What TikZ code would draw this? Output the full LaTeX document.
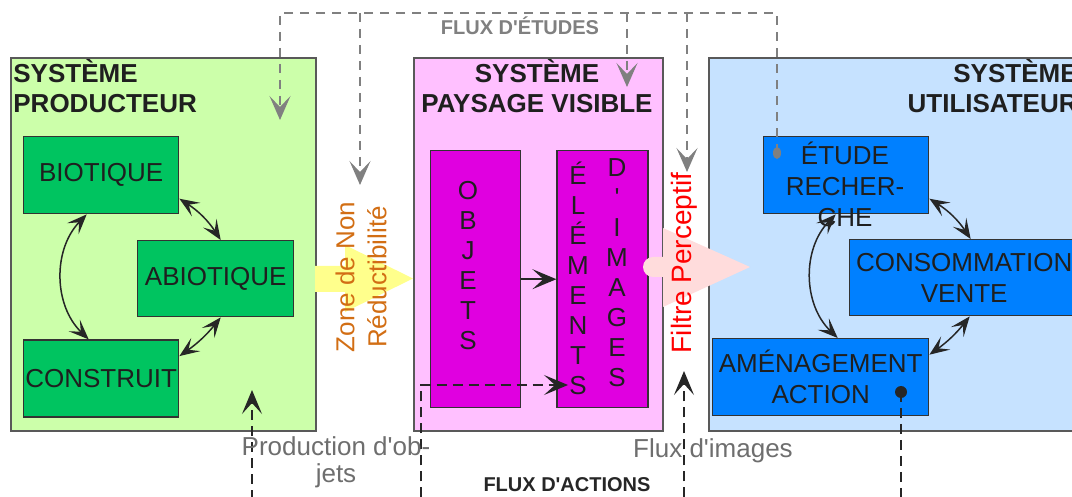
\documentclass[tikz,border=0pt]{standalone}
\usepackage{fontspec}
\setmainfont{Liberation Sans}
\usetikzlibrary{arrows.meta,positioning,shapes}

\definecolor{vertpale}{RGB}{204,255,170}
\definecolor{vertvif}{RGB}{0,196,96}
\definecolor{rosepale}{RGB}{255,192,255}
\definecolor{magentavif}{RGB}{224,0,224}
\definecolor{bleupale}{RGB}{198,226,255}
\definecolor{bleuvif}{RGB}{0,128,255}
\definecolor{jaunepale}{RGB}{255,255,140}
\definecolor{saumon}{RGB}{255,220,220}
\definecolor{orangezone}{RGB}{210,110,20}
\definecolor{gristrait}{RGB}{128,128,128}
\definecolor{gristexte}{RGB}{110,110,110}

\tikzset{
    systeme/.style={draw=black!65, line width=0.8pt, anchor=north west, inner sep=0pt, minimum height=186.5pt},
    titre/.style={font=\bfseries\fontsize{13}{15}\selectfont, text=black!88, inner sep=0pt},
    boite/.style={draw=black!80, line width=0.7pt, anchor=north west, inner sep=0pt, font=\fontsize{13}{15.5}\selectfont, text=black!88, align=center},
    colonne/.style={font=\fontsize{13}{15}\selectfont, text=black!88, align=center, inner sep=0pt},
    lien/.style={draw=black!85, line width=0.75pt, {Stealth[length=10pt,width=8pt,inset=4.5pt]}-{Stealth[length=10pt,width=8pt,inset=4.5pt]}},
    fleche/.style={draw=black!85, line width=0.7pt, -{Stealth[length=12pt,width=10pt,inset=5.5pt]}},
    tirets/.style={draw=black!85, line width=0.75pt, dash pattern=on 5pt off 3pt, -{Stealth[length=12pt,width=10pt,inset=5.5pt]}},
    etudes/.style={draw=gristrait, line width=0.75pt, dash pattern=on 4.5pt off 3.5pt, -{Stealth[length=12pt,width=10.5pt,inset=5.5pt]}},
    legende/.style={text=gristexte, font=\fontsize{13}{13.5}\selectfont, align=center, inner sep=0pt},
    pointgris/.style={ellipse, fill=gristrait, inner sep=0pt, minimum width=4pt, minimum height=6pt},
    pointnoir/.style={circle, fill=black!85, inner sep=0pt, minimum size=6pt}
}

\begin{document}
\begin{tikzpicture}[x=0.5pt, y=-0.5pt]
    \useasboundingbox (0,0) rectangle (1072,497);

    \node[systeme, fill=vertpale, minimum width=152.5pt] (prod) at (10,57) {};
    \node[systeme, fill=rosepale, minimum width=124.5pt] (pays) at (413,57) {};
    \node[systeme, fill=bleupale, minimum width=190pt] (util) at (708,57) {};

    \node[titre, anchor=north west, align=left] (tprod) at (13,59) {SYSTÈME\\PRODUCTEUR};
    \node[titre, anchor=north, align=center] (tpays) at (537,59) {SYSTÈME\\PAYSAGE VISIBLE};
    \node[titre, anchor=north east, align=right] (tutil) at (1078,59) {SYSTÈME\\UTILISATEUR};

    \node[boite, fill=vertvif, minimum width=77.5pt, minimum height=38.5pt] (bio) at (23,136) {BIOTIQUE};
    \node[boite, fill=vertvif, minimum width=78pt, minimum height=38pt] (abio) at (137,240) {ABIOTIQUE};
    \node[boite, fill=vertvif, minimum width=77.5pt, minimum height=38.5pt, below=62.5pt of bio] (constr) {CONSTRUIT};

    \node[boite, fill=magentavif, minimum width=45pt, minimum height=128.5pt] (obj) at (430,150) {};
    \node[boite, fill=magentavif, minimum width=45.5pt, minimum height=128.5pt, right=17.5pt of obj] (elem) {};
    \node[colonne] (tobj) at (468,266) {O\\B\\J\\E\\T\\S};
    \node[colonne] (telem) at (578,278.5) {É\\L\\É\\M\\E\\N\\T\\S};
    \node[colonne] (timg) at (617,272.5) {D\\\textquotesingle\\I\\M\\A\\G\\E\\S};

    \node[boite, fill=bleuvif, minimum width=82.5pt, minimum height=38.5pt] (etu) at (763,136) {};
    \node[colonne, font=\fontsize{13}{15.5}\selectfont] (tetu) at (845,184) {ÉTUDE\\RECHER-\\CHE};
    \node[boite, fill=bleuvif, minimum width=114.5pt, minimum height=38pt] (conso) at (849,239) {CONSOMMATION\\VENTE};
    \node[boite, fill=bleuvif, minimum width=108pt, minimum height=38.5pt] (amen) at (712,338) {AMÉNAGEMENT\\ACTION};

    \draw[lien] ([xshift=-7.25pt]bio.south) to[bend right=45] ([xshift=-6.25pt]constr.north);
    \draw[lien] ([yshift=-11.75pt]bio.east) to[bend left=12] ([xshift=2.5pt]abio.north);
    \draw[lien] ([xshift=2.5pt]abio.south) to[bend left=8] ([yshift=11.25pt]constr.east);
    \draw[fleche] (obj) -- (elem);
    \draw[lien] ([xshift=-5.25pt]etu.south) to[bend right=45] ([xshift=8.5pt]amen.north);
    \draw[lien] ([yshift=-11.75pt]etu.east) to[bend left=12] ([xshift=3.25pt]conso.north);
    \draw[lien] ([xshift=2.75pt]conso.south) to[bend left=8] ([yshift=11.25pt]amen.east);

    \fill[jaunepale] (315,266) -- (345,266) -- (345,245) -- (413,278.5) -- (345,312) -- (345,292) -- (315,292) -- cycle;
    \fill[saumon] (653,267) circle[radius=5pt];
    \fill[saumon] (653,257) -- (663,257) -- (663,228) -- (750,267) -- (663,307) -- (663,277) -- (653,277) -- cycle;

    \node[rotate=90, text=orangezone, font=\fontsize{13}{16}\selectfont, align=center] (zone) at (361,277) {Zone de Non\\Réductibilité};
    \node[rotate=90, text=red, font=\fontsize{14}{16}\selectfont] (filtre) at (684,263) {Filtre Perceptif};

    \coordinate (haut) at (0,13);
    \coordinate (ep) at (280,120);
    \coordinate (ez) at (360,185);
    \coordinate (ev) at (627,87);
    \coordinate (ef) at (687,172);
    \coordinate (pe) at (777,153);
    \draw[etudes] (pe) |- (haut -| ep) -- (ep);
    \draw[etudes] (haut -| ez) -- (ez);
    \draw[etudes] (haut -| ev) -- (ev);
    \draw[etudes] (haut -| ef) -- (ef);
    \node[pointgris] (dpe) at (pe) {};
    \node[font=\bfseries\fontsize{10}{12}\selectfont, text=gristrait, anchor=base] (fe) at (520,35) {FLUX D\textquotesingle ÉTUDES};

    \coordinate (bas) at (0,497.3);
    \coordinate (pa) at (901,392);
    \coordinate (ap) at (252,390);
    \coordinate (af) at (684,371);
    \coordinate (ac) at (421,385);
    \coordinate (ae) at (568,385);
    \draw[tirets] (pa) |- (bas -| ap) -- (ap);
    \draw[tirets] (bas -| af) -- (af);
    \draw[tirets] (bas -| ac) -- (ac) -- (ae);
    \node[pointnoir] (dpa) at (pa) {};

    \node[legende] (lprod) at (336,462) {Production d\textquotesingle ob-\\jets};
    \node[legende, anchor=base] (limg) at (713,458) {Flux d\textquotesingle images};
    \node[font=\bfseries\fontsize{10}{12}\selectfont, text=black!85, anchor=base] (fa) at (567,492) {FLUX D\textquotesingle ACTIONS};

\end{tikzpicture}
\end{document}
